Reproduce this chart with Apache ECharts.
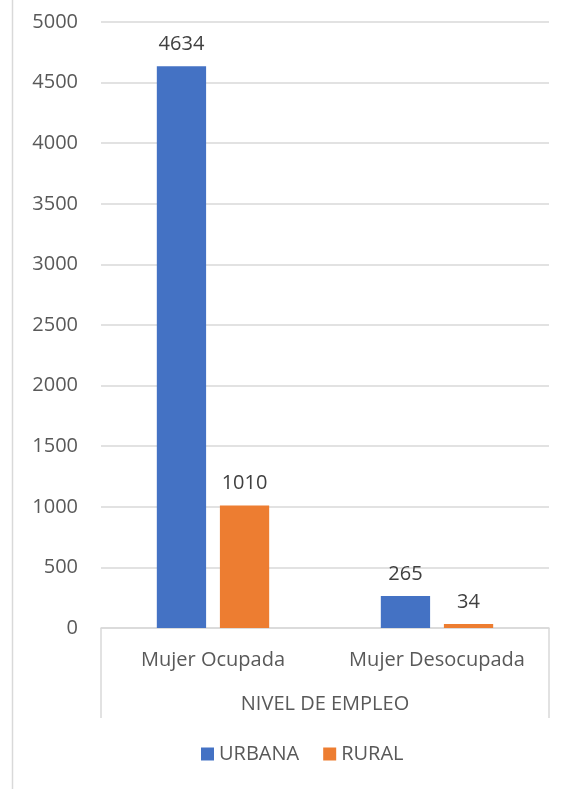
<!DOCTYPE html>
<html>
<head>
    <meta charset="utf-8">
    <title>Nivel de empleo</title>
    <script src="https://cdn.jsdelivr.net/npm/echarts@6.0.0/dist/echarts.min.js"></script>
    <style>
        html, body { margin: 0; padding: 0; background: #fff; }
        #main { width: 566px; height: 789px; }
    </style>
</head>
<body>
    <div id="main"></div>
    <script>
        const categories = ['Mujer Ocupada', 'Mujer Desocupada'];
        const groupName = ['NIVEL DE EMPLEO'];
        const urbana = [4634, 265];
        const rural = [1010, 34];

        var myChart = echarts.init(document.getElementById('main'));
        const font = "'Open Sans', sans-serif";
        const lineColor = '#d9d9d9';
        const textColor = '#595959';
        const fs = 20;

        const labelStyle = {
            show: true,
            position: 'top',
            distance: 12,
            color: '#404040',
            fontSize: fs,
            fontFamily: font
        };

        const option = {
            animation: false,
            grid: { left: 101, right: 17, top: 22, bottom: 161 },
            graphic: [{
                type: 'line',
                shape: { x1: 12.5, y1: 0, x2: 12.5, y2: 789 },
                style: { stroke: lineColor, lineWidth: 1.5 }
            }],
            legend: {
                bottom: 20,
                left: 196,
                itemWidth: 13,
                itemHeight: 13,
                itemGap: 24,
                icon: 'rect',
                textStyle: { color: textColor, fontSize: fs, fontFamily: font }
            },
            xAxis: [
                {
                    type: 'category',
                    data: categories,
                    axisLine: { lineStyle: { color: lineColor, width: 1.5 } },
                    axisTick: { show: false },
                    axisLabel: {
                        color: textColor, fontSize: fs, fontFamily: font, margin: 22,
                        interval: 0, hideOverlap: false
                    }
                },
                {
                    type: 'category',
                    data: groupName,
                    position: 'bottom',
                    axisLine: { show: false },
                    axisTick: { show: true, length: 90, lineStyle: { color: lineColor, width: 1.5 } },
                    axisLabel: { color: textColor, fontSize: fs, fontFamily: font, margin: 66, interval: 0 }
                }
            ],
            yAxis: {
                type: 'value',
                min: 0,
                max: 5000,
                interval: 500,
                axisLine: { show: false },
                axisTick: { show: false },
                axisLabel: {
                    color: textColor, fontSize: fs, fontFamily: font, margin: 23,
                    formatter: function (v) { return String(v); }
                },
                splitLine: { lineStyle: { color: lineColor, width: 1.5 } }
            },
            series: [
                {
                    name: 'URBANA',
                    type: 'bar',
                    data: urbana,
                    barWidth: '22%',
                    barGap: '28%',
                    itemStyle: { color: '#4472c4' },
                    label: labelStyle
                },
                {
                    name: 'RURAL',
                    type: 'bar',
                    data: rural,
                    barWidth: '22%',
                    itemStyle: { color: '#ed7d31' },
                    label: labelStyle
                }
            ]
        };

        myChart.setOption(option);
    </script>
</body>
</html>
